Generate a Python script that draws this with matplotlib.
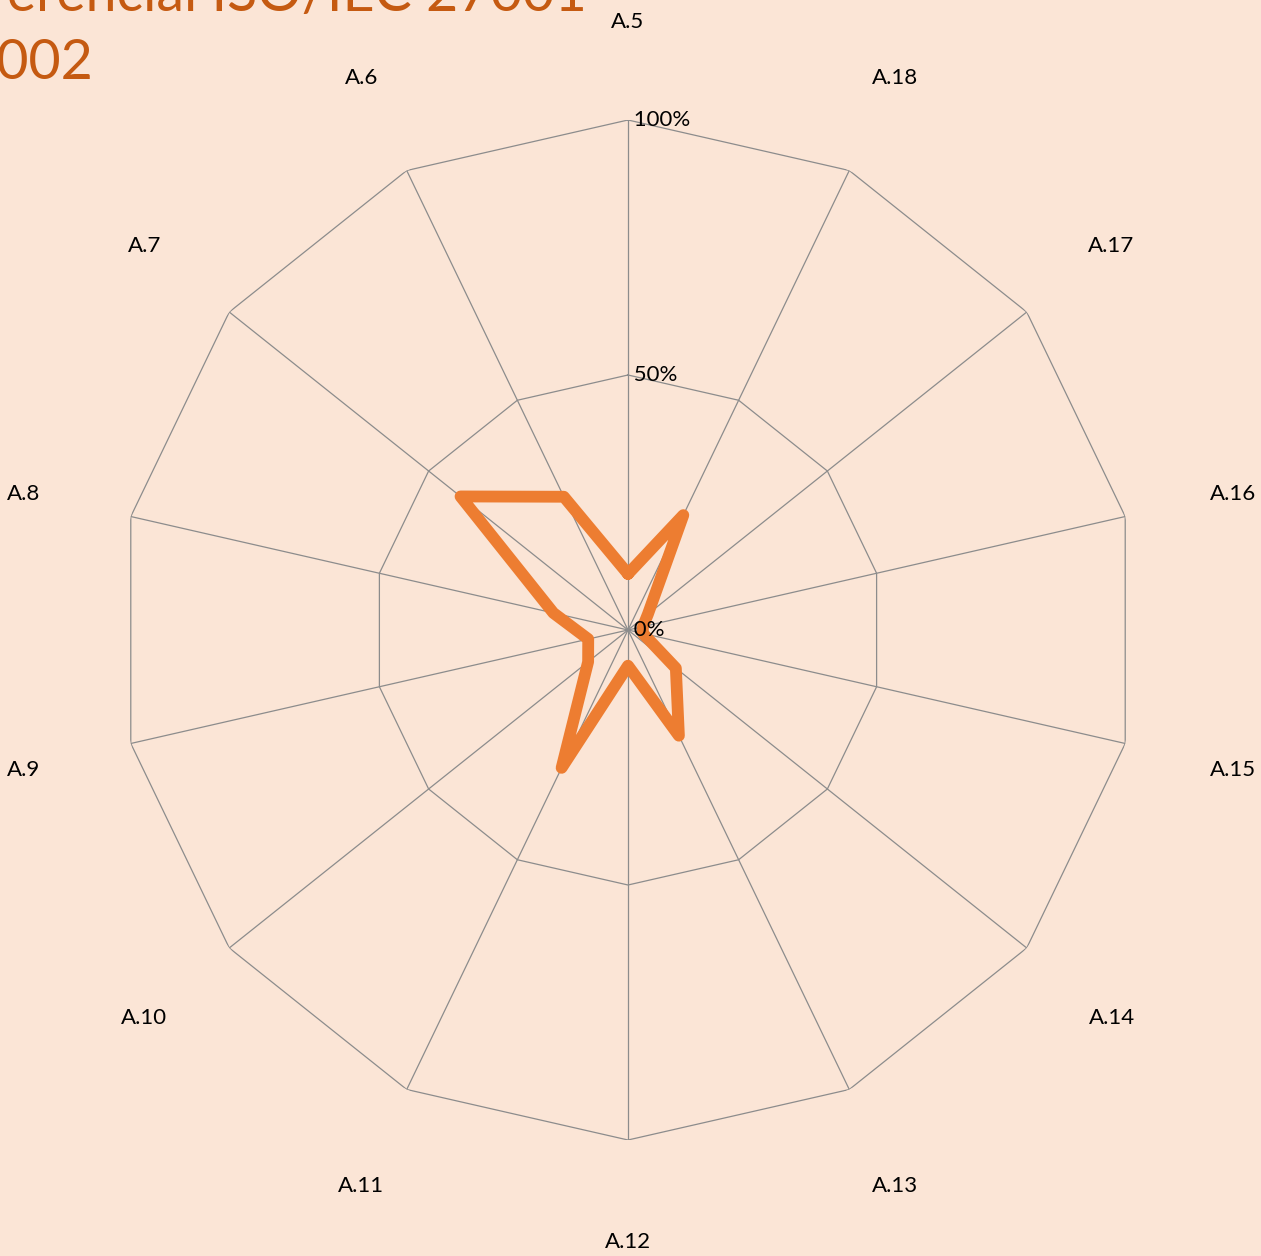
import numpy as np
import matplotlib
matplotlib.use("Agg")
import matplotlib.pyplot as plt
from matplotlib.transforms import offset_copy

CATEGORIES = ["A.5", "A.6", "A.7", "A.8", "A.9", "A.10", "A.11",
              "A.12", "A.13", "A.14", "A.15", "A.16", "A.17", "A.18"]
VALUES = [0.11, 0.29, 0.42, 0.15, 0.08, 0.10, 0.30,
          0.07, 0.23, 0.12, 0.03, 0.03, 0.05, 0.25]
GRID_LEVELS = [0.5, 1.0]
TICK_LEVELS = [0.0, 0.5, 1.0]
TICK_LABELS = ["0%", "50%", "100%"]
TITLE = "Diferencial ISO/IEC 27001\n27002"

BG = "#FBE5D6"
LINE_COLOR = "#ED7D31"
TITLE_COLOR = "#C55A11"
GRID_COLOR = "#8C8C8C"

W, H = 1261, 1256
DPI = 100
CX, CY, R = 628, 630, 510

plt.rcParams["font.family"] = ["Lato", "DejaVu Sans"]

fig = plt.figure(figsize=(W / DPI, H / DPI), dpi=DPI, facecolor=BG)
ax = fig.add_axes([(CX - R) / W, (H - CY - R) / H, 2 * R / W, 2 * R / H],
                  projection="polar", facecolor=BG)
ax.set_theta_offset(np.pi / 2)
ax.set_theta_direction(1)
ax.set_ylim(0, 1)
ax.grid(False)
ax.spines["polar"].set_visible(False)
ax.set_xticks([])
ax.set_yticks([])
ax.patch.set_alpha(0)

n = len(CATEGORIES)
angles = np.linspace(0, 2 * np.pi, n, endpoint=False)
closed = np.concatenate([angles, angles[:1]])

# polygon grid
for lvl in GRID_LEVELS:
    ax.plot(closed, [lvl] * (n + 1), color=GRID_COLOR, lw=0.9, zorder=1)
for a in angles:
    ax.plot([a, a], [0, 1], color=GRID_COLOR, lw=0.9, zorder=1)

# series
vals = VALUES + VALUES[:1]
ax.plot(closed, vals, color=LINE_COLOR, lw=8.5, solid_joinstyle="round",
        solid_capstyle="round", zorder=3)

# tick labels on the top spoke
for lvl, lab in zip(TICK_LEVELS, TICK_LABELS):
    ax.text(0, lvl, " " + lab, ha="left", va="center", fontsize=16,
            color="black", zorder=4)

# category labels (side labels sit a bit further out, like Excel)
lab_tr = offset_copy(ax.transData, fig=fig, x=0, y=-2, units="dots")
for a, lab in zip(angles, CATEGORIES):
    r_lab = 1.197 + 0.02 * abs(np.sin(a))
    ax.text(a, r_lab, lab, ha="center", va="center", fontsize=16,
            color="black", transform=lab_tr)

fig.text(-68 / W, 1 + 30 / H, TITLE, ha="left", va="top", fontsize=40,
         color=TITLE_COLOR, linespacing=1.42)

fig.savefig("out.png", dpi=DPI, facecolor=BG)
